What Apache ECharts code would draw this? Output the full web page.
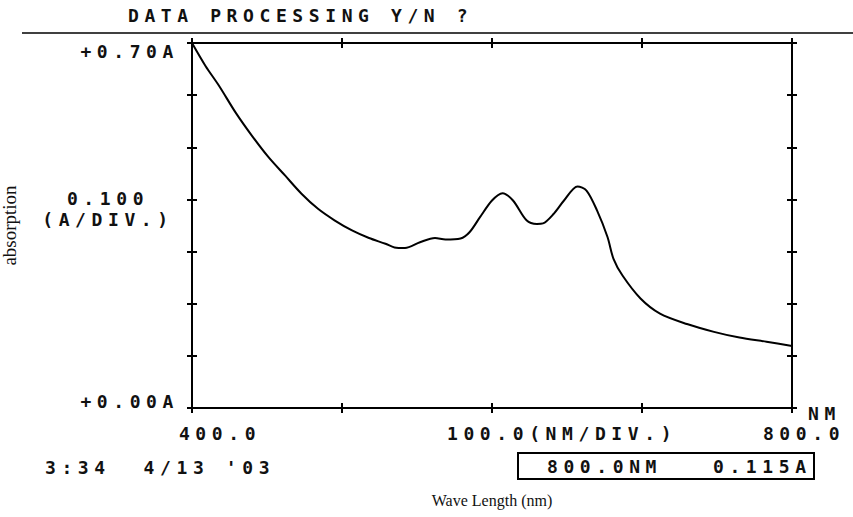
<!DOCTYPE html>
<html>
<head>
<meta charset="utf-8">
<script src="https://cdn.jsdelivr.net/npm/echarts@6/dist/echarts.min.js"></script>
<style>
  html, body { margin: 0; padding: 0; background: #fff; }
  #chart { width: 853px; height: 517px; }
  #chart text[style*="Mono"] { letter-spacing: 5.6px; white-space: pre; }
</style>
</head>
<body>
<div id="chart"></div>
<script>
// ---- data ----
const wavelengths = [400, 409, 418, 429, 440, 451, 462, 473, 484, 495, 507, 518, 529, 535, 542, 552, 562, 569, 579, 585, 592, 600, 607, 614, 623, 630, 634, 641, 648, 657, 663, 670, 677, 681, 687, 699, 712, 730, 748, 765, 783, 800];
const absorbance  = [0.700, 0.656, 0.618, 0.567, 0.522, 0.481, 0.446, 0.411, 0.382, 0.360, 0.340, 0.326, 0.315, 0.308, 0.307, 0.318, 0.326, 0.323, 0.325, 0.337, 0.366, 0.398, 0.412, 0.398, 0.360, 0.353, 0.354, 0.372, 0.398, 0.425, 0.417, 0.379, 0.328, 0.286, 0.254, 0.210, 0.181, 0.161, 0.146, 0.135, 0.127, 0.119];
const xTickLabels = { 400: '400.0', 800: '800.0' };
const yTickLabels = { '0': '+0.00A', '0.7': '+0.70A' };
const headerText = 'DATA PROCESSING Y/N ?';
const xScaleText = '100.0(NM/DIV.)';
const yScaleText = ['0.100', '(A/DIV.)'];
const unitText = 'NM';
const timeStamp = "3:34  4/13 '03";
const cursorWavelength = '800.0NM';
const cursorValue = '0.115A';
const xName = 'Wave Length (nm)';
const yName = 'absorption';

const MONO = '"DejaVu Sans Mono"';
const FS = 18;
const monoStyle = { fontFamily: MONO, fontWeight: 'bold', fontSize: FS, color: '#111' };

const seriesData = wavelengths.map((w, i) => [w, absorbance[i]]);

const chart = echarts.init(document.getElementById('chart'), null, { renderer: 'svg' });

const gridBox = { left: 192, right: 61, top: 43, bottom: 109, containLabel: false, outerBoundsMode: 'none' };
const axisLine = { show: true, onZero: false, lineStyle: { color: '#000', width: 2 } };

function xAx(gridIndex, position, inside, withLabels) {
  const a = {
    type: 'value', gridIndex, position, min: 400, max: 800, interval: 100,
    axisLine, splitLine: { show: false },
    axisTick: { show: true, inside, length: 5, lineStyle: { color: '#000', width: 2 } },
    axisLabel: { show: false }
  };
  if (withLabels) {
    a.axisLabel = {
      show: true, margin: 16, ...monoStyle,
      formatter: v => v === 400 ? '{l|' + xTickLabels[400] + '}' : (v === 800 ? '{r|' + xTickLabels[800] + '}' : ''),
      rich: {
        l: { ...monoStyle, padding: [0, 0, 0, 56] },
        r: { ...monoStyle, padding: [0, 0, 0, 24] }
      }
    };
    a.name = xName;
    a.nameLocation = 'middle';
    a.nameGap = 84;
    a.nameTextStyle = { fontFamily: '"Liberation Serif"', fontSize: 16, color: '#111' };
  }
  return a;
}
function yAx(gridIndex, position, inside, withLabels) {
  const a = {
    type: 'value', gridIndex, position, min: 0, max: 0.7, interval: 0.1,
    axisLine, splitLine: { show: false },
    axisTick: { show: true, inside, length: 5, lineStyle: { color: '#000', width: 2 } },
    axisLabel: { show: false }
  };
  if (withLabels) {
    a.axisLabel = {
      show: true, margin: 13, ...monoStyle,
      formatter: v => {
        const k = String(Math.round(v * 10) / 10);
        if (k === '0.7') return '{t|' + yTickLabels['0.7'] + '}';
        if (k === '0') return '{b|' + yTickLabels['0'] + '}';
        return '';
      },
      rich: {
        t: { ...monoStyle, padding: [16, 0, 0, 0] },
        b: { ...monoStyle, padding: [0, 0, 13, 0] }
      }
    };
    a.name = yName;
    a.nameLocation = 'middle';
    a.nameRotate = 90;
    a.nameGap = 173;
    a.nameTextStyle = { fontFamily: '"Liberation Serif"', fontSize: 19, color: '#111' };
  }
  return a;
}

function monoText(text, x, y) {
  return { type: 'text', left: x, top: y - 9, style: { text, font: 'bold ' + FS + 'px ' + MONO, fill: '#111' } };
}

const option = {
  backgroundColor: '#fff',
  animation: false,
  grid: [ { ...gridBox }, { ...gridBox } ],
  xAxis: [
    xAx(0, 'bottom', true, true),
    xAx(0, 'top', true, false),
    xAx(1, 'bottom', false, false),
    xAx(1, 'top', false, false)
  ],
  yAxis: [
    yAx(0, 'left', true, true),
    yAx(0, 'right', true, false),
    yAx(1, 'left', false, false),
    yAx(1, 'right', false, false)
  ],
  series: [{
    type: 'line',
    xAxisIndex: 0, yAxisIndex: 0,
    data: seriesData,
    smooth: 0.3,
    showSymbol: false,
    lineStyle: { color: '#000', width: 2 }
  }],
  graphic: [
    monoText(headerText, 128, 15),
    { type: 'line', shape: { x1: 22, y1: 33, x2: 853, y2: 33 }, style: { stroke: '#000', lineWidth: 1.5 } },
    {
      type: 'text', x: 108, y: 188,
      style: { text: yScaleText.join('\n'), font: 'bold ' + FS + 'px ' + MONO, fill: '#111', align: 'center', lineHeight: 21 }
    },
    monoText(xScaleText, 447, 433),
    monoText(unitText, 808, 413),
    monoText(timeStamp, 45, 467),
    { type: 'rect', shape: { x: 518, y: 453, width: 296, height: 26 }, style: { fill: 'none', stroke: '#000', lineWidth: 2 } },
    monoText(cursorWavelength, 547, 466),
    monoText(cursorValue, 713, 466)
  ]
};
chart.setOption(option);
</script>
</body>
</html>
